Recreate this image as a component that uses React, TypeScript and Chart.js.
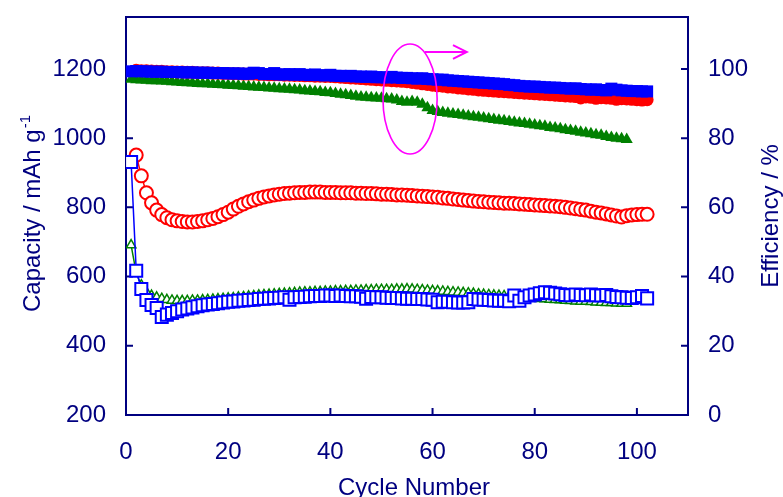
import React, { useEffect, useRef } from 'react';
import { Chart, registerables } from 'chart.js';

Chart.register(...registerables);

const NAVY = '#000080';
const FONT = '"Liberation Sans", Arial, Helvetica, sans-serif';

const xTicks = [0, 20, 40, 60, 80, 100];
const yLeftTicks = [200, 400, 600, 800, 1000, 1200];
const yRightTicks = [0, 20, 40, 60, 80, 100];

const xTitle = 'Cycle Number';
const yLeftTitle = 'Capacity / mAh g';
const yLeftTitleSup = '-1';
const yRightTitle = 'Efficiency / %';

// Red open circles: capacity, cycles 2..102
const redCapStart = 2;
const redCap = [
  951, 891, 842, 813, 792, 779, 770, 764, 761,
  759, 758, 758, 759, 761, 764, 768, 773, 779, 786,
  795, 803, 810, 816, 821, 826, 830, 833, 836, 838,
  840, 841, 842, 843, 843, 844, 844, 844, 843, 843,
  843, 842, 842, 842, 841, 841, 840, 840, 839, 838,
  838, 837, 836, 836, 835, 834, 833, 832, 831, 830,
  829, 827, 826, 824, 823, 821, 820, 818, 817, 816,
  815, 814, 813, 812, 812, 811, 810, 809, 808, 807,
  806, 805, 804, 803, 802, 800, 798, 796, 794, 792,
  789, 786, 784, 781, 778, 775, 772, 776, 778, 779,
  780, 780,
];

// Blue open squares: capacity, cycles 1..102
const blueCapStart = 1;
const blueCap = [
  931, 617, 564, 532, 518, 509, 483, 490, 495, 500,
  505, 508, 511, 514, 517, 519, 521, 523, 525, 527,
  528, 530, 531, 532, 533, 535, 536, 537, 538, 539,
  540, 533, 540, 541, 542, 543, 544, 544, 545, 545,
  544, 545, 544, 543, 543, 542, 536, 541, 540, 540,
  539, 538, 538, 537, 536, 536, 535, 535, 534, 533,
  526, 527, 527, 526, 525, 525, 526, 535, 534, 533,
  532, 531, 530, 530, 529, 545, 530, 540, 545, 548,
  552, 555, 553, 551, 549, 547, 546, 548, 547, 546,
  548, 546, 545, 547, 543, 541, 540, 539, 538, 540,
  544, 537,
];

// Green open triangles: capacity, cycles 1..98
const greenCapStart = 1;
const greenCap = [
  691, 610, 575, 555, 545, 540, 536, 533, 531, 530,
  530, 530, 531, 531, 532, 533, 534, 535, 536, 537,
  538, 540, 541, 543, 544, 546, 547, 548, 549, 550,
  551, 552, 553, 554, 555, 555, 556, 556, 557, 557,
  558, 558, 559, 559, 560, 560, 561, 561, 562, 562,
  562, 562, 563, 563, 564, 563, 562, 561, 560, 559,
  558, 557, 556, 555, 554, 553, 552, 551, 549, 548,
  547, 546, 545, 544, 543, 542, 541, 539, 538, 537,
  536, 535, 534, 533, 532, 531, 530, 529, 528, 528,
  527, 526, 525, 524, 524, 523, 522, 522,
];

// Red filled circles: efficiency, cycles 2..102
const redEffStart = 2;
const redEff = [
  99.6, 99.5, 99.5, 99.4, 99.3, 99.3, 99.2, 99.2, 99.1,
  99.1, 99.0, 99.0, 98.9, 98.9, 98.9, 98.8, 98.8, 98.7, 98.7,
  98.6, 98.6, 98.5, 98.5, 98.5, 98.4, 98.4, 98.3, 98.3, 98.3,
  98.2, 98.2, 98.1, 98.1, 98.0, 98.0, 97.9, 97.9, 97.8, 97.8,
  97.7, 97.6, 97.5, 97.4, 97.3, 97.2, 97.1, 97.0, 96.9, 96.8,
  96.7, 96.6, 96.5, 96.4, 96.3, 96.1, 95.9, 95.7, 95.5, 95.3,
  95.1, 95.0, 94.8, 94.7, 94.5, 94.4, 94.2, 94.1, 93.9, 93.8,
  93.7, 93.6, 93.5, 93.4, 93.3, 93.2, 93.1, 93.0, 92.9, 92.8,
  92.7, 92.6, 92.5, 92.4, 92.3, 92.2, 92.1, 92.0, 91.6, 91.9,
  91.8, 91.5, 91.7, 91.6, 91.5, 91.2, 91.4, 91.3, 91.2, 91.1,
  91.0, 91.1,
];

// Blue filled squares: efficiency, cycles 1..102
const blueEffStart = 1;
const blueEff = [
  99.3, 99.4, 99.3, 99.3, 99.2, 99.2, 99.2, 99.1, 99.1, 99.1,
  99.0, 99.0, 99.0, 98.9, 98.9, 98.9, 98.8, 98.8, 98.8, 98.7,
  98.7, 98.7, 98.6, 98.6, 98.9, 98.8, 98.5, 98.5, 98.8, 98.4,
  98.4, 98.5, 98.3, 98.5, 98.3, 98.2, 98.4, 98.2, 98.1, 98.3,
  98.0, 98.0, 97.9, 98.0, 97.8, 97.8, 97.7, 97.8, 97.6, 97.6,
  97.5, 97.7, 97.5, 97.4, 97.4, 97.3, 97.2, 97.3, 97.1, 97.0,
  96.9, 96.9, 96.7, 96.6, 96.5, 96.4, 96.3, 96.2, 96.1, 96.0,
  95.9, 95.8, 95.7, 95.6, 95.4, 95.3, 95.1, 95.0, 94.9, 94.9,
  94.8, 94.7, 94.6, 94.6, 94.5, 94.4, 94.3, 94.4, 94.2, 94.1,
  94.0, 94.1, 93.9, 93.8, 94.3, 94.0, 93.8, 93.7, 93.6, 93.6,
  93.5, 93.5,
];

// Green filled triangles: efficiency, cycles 1..98
const greenEffStart = 1;
const greenEff = [
  97.0, 96.9, 96.8, 96.7, 96.6, 96.6, 96.5, 96.4, 96.3, 96.2,
  96.1, 96.0, 95.9, 95.8, 95.7, 95.7, 95.6, 95.5, 95.4, 95.3,
  95.2, 95.1, 95.0, 94.9, 94.8, 94.7, 94.6, 94.5, 94.4, 94.3,
  94.2, 94.1, 94.0, 93.9, 93.7, 93.6, 93.5, 93.4, 93.2, 93.1,
  92.9, 92.7, 92.5, 92.3, 92.1, 91.9, 91.8, 91.7, 91.6, 91.5,
  91.4, 91.3, 91.0, 90.6, 90.4, 90.6, 90.4, 89.8, 88.8, 88.0,
  87.7, 87.4, 87.2, 87.0, 86.8, 86.6, 86.4, 86.2, 86.0, 85.8,
  85.6, 85.4, 85.2, 85.0, 84.8, 84.6, 84.4, 84.2, 84.0, 83.8,
  83.6, 83.4, 83.1, 82.9, 82.7, 82.4, 82.2, 82.0, 81.7, 81.5,
  81.3, 81.0, 80.8, 80.5, 80.2, 80.0, 79.8, 79.6,
];

// Annotation (data units: cycle, efficiency %)
const ellipseCenter = { x: 55.6, y: 91.3 };
const ellipseRadius = { x: 5.3, y: 15.9 };
const arrowFrom = { x: 58.5, y: 104.9 };
const arrowTo = { x: 66.7, y: 104.9 };
const arrowHead = { x: 2.7, y: 2.0 };

function pts(start: number, vals: number[]) {
  return vals.map((v, i) => ({ x: start + i, y: v }));
}

const decor = {
  id: 'decor',
  beforeDatasetsDraw(chart: any) {
    const { ctx, chartArea: a, scales } = chart;
    ctx.save();
    ctx.strokeStyle = NAVY;
    ctx.lineWidth = 2;
    ctx.strokeRect(a.left, a.top, a.right - a.left, a.bottom - a.top);
    ctx.beginPath();
    const T = 7;
    for (const v of yLeftTicks) {
      const y = scales.y.getPixelForValue(v);
      if (Math.abs(y - a.bottom) < 1) continue;
      ctx.moveTo(a.left, y);
      ctx.lineTo(a.left + T, y);
    }
    for (const v of yRightTicks) {
      const y = scales.y1.getPixelForValue(v);
      if (Math.abs(y - a.bottom) < 1) continue;
      ctx.moveTo(a.right, y);
      ctx.lineTo(a.right - T, y);
    }
    for (const v of xTicks) {
      const x = scales.x.getPixelForValue(v);
      if (Math.abs(x - a.left) < 1) continue;
      ctx.moveTo(x, a.bottom);
      ctx.lineTo(x, a.bottom - T);
    }
    ctx.stroke();
    ctx.restore();
  },
  afterDraw(chart: any) {
    const { ctx, chartArea: a, scales } = chart;
    const midY = (a.top + a.bottom) / 2;
    ctx.save();
    ctx.fillStyle = NAVY;
    ctx.textBaseline = 'alphabetic';
    // bottom title
    ctx.font = `24px ${FONT}`;
    ctx.textAlign = 'center';
    ctx.fillText(xTitle, (a.left + a.right) / 2 + 7, 495);
    // left title
    ctx.save();
    ctx.translate(40, midY - 2);
    ctx.rotate(-Math.PI / 2);
    ctx.font = `24px ${FONT}`;
    const w1 = ctx.measureText(yLeftTitle).width;
    ctx.font = `15px ${FONT}`;
    const w2 = ctx.measureText(yLeftTitleSup).width;
    const start = -(w1 + w2) / 2;
    ctx.textAlign = 'left';
    ctx.font = `24px ${FONT}`;
    ctx.fillText(yLeftTitle, start, 0);
    ctx.font = `15px ${FONT}`;
    ctx.fillText(yLeftTitleSup, start + w1 + 1, -10);
    ctx.restore();
    // right title
    ctx.save();
    ctx.translate(778, midY);
    ctx.rotate(-Math.PI / 2);
    ctx.font = `24px ${FONT}`;
    ctx.textAlign = 'center';
    ctx.fillText(yRightTitle, 0, 0);
    ctx.restore();
    // annotation
    const sx = scales.x, sy = scales.y1;
    const cx = sx.getPixelForValue(ellipseCenter.x);
    const cy = sy.getPixelForValue(ellipseCenter.y);
    const rx = Math.abs(sx.getPixelForValue(ellipseCenter.x + ellipseRadius.x) - cx);
    const ry = Math.abs(sy.getPixelForValue(ellipseCenter.y + ellipseRadius.y) - cy);
    ctx.strokeStyle = '#ff00ff';
    ctx.lineWidth = 1.6;
    ctx.beginPath();
    ctx.ellipse(cx, cy, rx, ry, 0, 0, Math.PI * 2);
    ctx.stroke();
    const ax0 = sx.getPixelForValue(arrowFrom.x), ay0 = sy.getPixelForValue(arrowFrom.y);
    const ax1 = sx.getPixelForValue(arrowTo.x), ay1 = sy.getPixelForValue(arrowTo.y);
    const hx = sx.getPixelForValue(arrowTo.x - arrowHead.x);
    const hyU = sy.getPixelForValue(arrowTo.y + arrowHead.y);
    const hyD = sy.getPixelForValue(arrowTo.y - arrowHead.y);
    ctx.lineWidth = 2;
    ctx.beginPath();
    ctx.moveTo(ax0, ay0);
    ctx.lineTo(ax1, ay1);
    ctx.moveTo(hx, hyU);
    ctx.lineTo(ax1, ay1);
    ctx.lineTo(hx, hyD);
    ctx.stroke();
    ctx.restore();
  },
};

export default function App() {
  const ref = useRef<HTMLCanvasElement | null>(null);
  useEffect(() => {
    if (!ref.current) return;
    const tickFont = { family: FONT, size: 24 };
    const plain = (v: any) => String(v);
    const zeroPad = (s: any) => {
      s.paddingTop = 0; s.paddingBottom = 0; s.paddingLeft = 0; s.paddingRight = 0;
    };
    const chart = new Chart(ref.current, {
      type: 'line',
      data: {
        datasets: [
          {
            data: pts(blueEffStart, blueEff), yAxisID: 'y1',
            borderColor: '#0000ff', backgroundColor: '#0000ff', borderWidth: 1.5,
            pointStyle: 'rect', pointRadius: 8.5, pointBorderWidth: 0,
          },
          {
            data: pts(redEffStart, redEff), yAxisID: 'y1',
            borderColor: '#ff0000', backgroundColor: '#ff0000', borderWidth: 1.5,
            pointStyle: 'circle', pointRadius: 6.5, pointBorderWidth: 0,
          },
          {
            data: pts(greenEffStart, greenEff), yAxisID: 'y1',
            borderColor: '#008000', backgroundColor: '#008000', borderWidth: 1.5,
            pointStyle: 'triangle', pointRadius: 7, pointBorderWidth: 0,
          },
          {
            data: pts(blueCapStart, blueCap), yAxisID: 'y',
            borderColor: '#0000ff', backgroundColor: '#ffffff', borderWidth: 1.5,
            pointStyle: 'rect', pointRadius: 8.5, pointBorderWidth: 2,
          },
          {
            data: pts(greenCapStart, greenCap), yAxisID: 'y',
            borderColor: '#008000', backgroundColor: '#ffffff', borderWidth: 1.5,
            pointStyle: 'triangle', pointRadius: 5.5, pointBorderWidth: 1.5,
          },
          {
            data: pts(redCapStart, redCap), yAxisID: 'y',
            borderColor: '#ff0000', backgroundColor: '#ffffff', borderWidth: 1.5,
            pointStyle: 'circle', pointRadius: 6.5, pointBorderWidth: 2,
          },
        ],
      },
      options: {
        animation: false,
        responsive: true,
        maintainAspectRatio: false,
        layout: { padding: { top: 17, left: 0, right: 0, bottom: 0 } },
        plugins: { legend: { display: false }, tooltip: { enabled: false } },
        elements: { line: { tension: 0 } },
        scales: {
          x: {
            type: 'linear', min: 0, max: 110,
            afterBuildTicks: (s: any) => { s.ticks = xTicks.map((v) => ({ value: v })); },
            afterFit: (s: any) => { s.height = 82; zeroPad(s); },
            grid: { display: false, drawTicks: false },
            border: { display: false },
            ticks: { color: NAVY, font: tickFont, padding: 23, maxRotation: 0, autoSkip: false, callback: plain },
          },
          y: {
            type: 'linear', position: 'left', min: 200, max: 1350,
            afterBuildTicks: (s: any) => { s.ticks = yLeftTicks.map((v) => ({ value: v })); },
            afterFit: (s: any) => { s.width = 126; zeroPad(s); },
            grid: { display: false, drawTicks: false },
            border: { display: false },
            ticks: { color: NAVY, font: tickFont, padding: 20, autoSkip: false, callback: plain },
          },
          y1: {
            type: 'linear', position: 'right', min: 0, max: 115,
            afterBuildTicks: (s: any) => { s.ticks = yRightTicks.map((v) => ({ value: v })); },
            afterFit: (s: any) => { s.width = 95; zeroPad(s); },
            grid: { display: false, drawTicks: false },
            border: { display: false },
            ticks: { color: NAVY, font: tickFont, padding: 20, autoSkip: false, callback: plain },
          },
        },
      },
      plugins: [decor],
    } as any);
    return () => chart.destroy();
  }, []);
  return (
    <div style={{ position: 'fixed', left: 0, top: 0, width: 783, height: 497, background: '#fff' }}>
      <canvas ref={ref} />
    </div>
  );
}
